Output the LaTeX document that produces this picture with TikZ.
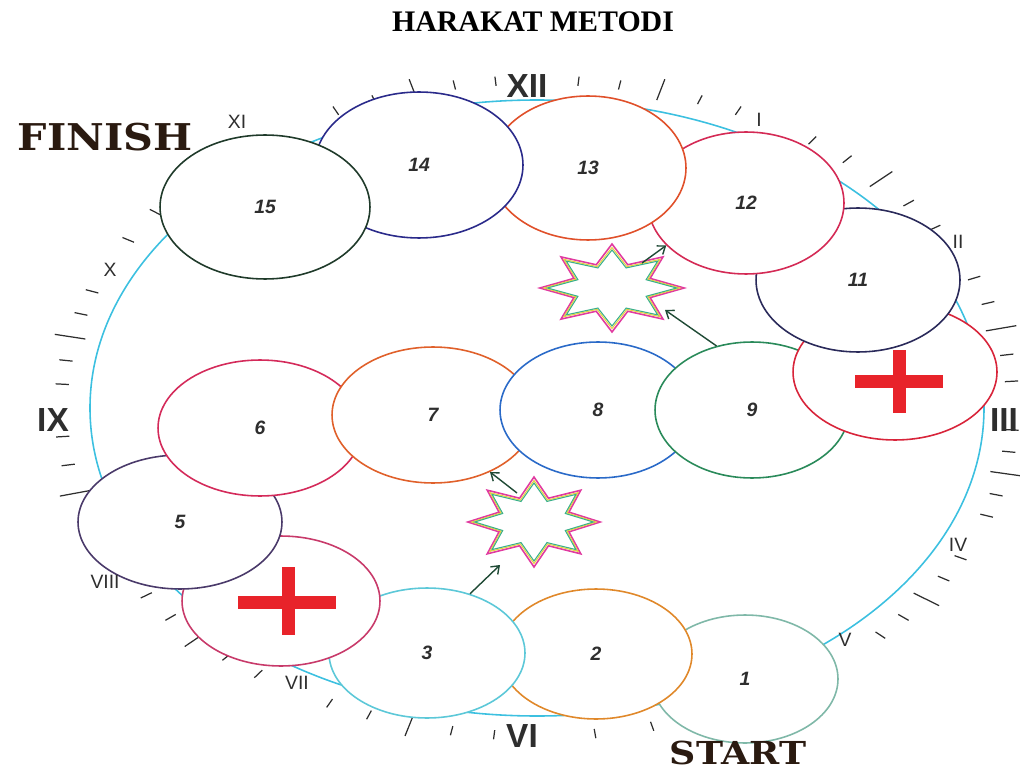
\documentclass[tikz,border=0pt]{standalone}
\usepackage{fontspec}
\setmainfont{Liberation Serif}
\setsansfont{Liberation Sans}
\newfontfamily\slabfont{DejaVu Serif}
\usetikzlibrary{shapes.geometric,arrows.meta,calc}
\definecolor{dialblue}{HTML}{3CC0E0}
\definecolor{tickgray}{HTML}{2E2E2E}
\definecolor{arrowgreen}{HTML}{1F4A35}
\definecolor{plusred}{HTML}{E8232A}
\definecolor{burstpink}{HTML}{E03AA0}
\definecolor{burstyellow}{HTML}{E8D040}
\definecolor{burstteal}{HTML}{3AB08A}
\definecolor{labelbrown}{HTML}{2A1A10}
\definecolor{ccA}{HTML}{7FB8A8}
\definecolor{ccB}{HTML}{E0882A}
\definecolor{ccC}{HTML}{5CC8D8}
\definecolor{ccD}{HTML}{C83A6A}
\definecolor{ccE}{HTML}{4A3A6A}
\definecolor{ccF}{HTML}{D42A5A}
\definecolor{ccG}{HTML}{E0602A}
\definecolor{ccH}{HTML}{2A6AC8}
\definecolor{ccI}{HTML}{2A8A5A}
\definecolor{ccJ}{HTML}{D8243A}
\definecolor{ccK}{HTML}{2A2A5A}
\definecolor{ccL}{HTML}{D42A55}
\definecolor{ccM}{HTML}{E0502A}
\definecolor{ccN}{HTML}{2A2A8A}
\definecolor{ccO}{HTML}{1F3A2A}
\begin{document}
\begin{tikzpicture}[x=0.02cm,y=-0.02cm,
	cell/.style={ellipse,draw,fill=white,line width=0.9pt,inner sep=0pt,font=\sffamily\itshape\bfseries\fontsize{11}{12}\selectfont,text=tickgray},
	burst/.style={star,star points=8,star point ratio=1.75,inner sep=0pt,line width=0.9pt,transform shape},
	arr/.style={-{Straight Barb[length=4pt,width=6pt]},line width=0.8pt,draw=arrowgreen},
	dialtick/.style={line width=0.7pt,draw=tickgray},
	bigroman/.style={font=\sffamily\bfseries\fontsize{19}{20}\selectfont,text=tickgray},
	roman/.style={font=\sffamily\fontsize{11}{12}\selectfont,text=tickgray},
	plusbar/.style={line width=7.4pt,draw=plusred}]
	\useasboundingbox (0,0) rectangle (1020,773);
	\node[font=\bfseries\fontsize{17}{20}\selectfont] (title) at (533,22) {HARAKAT METODI};
	\draw[dialblue,line width=0.9pt] (537,408) ellipse [x radius=447,y radius=308];
	\foreach \a/\b in {90/60,60/28,28/0,0/-23,-23/-48,-48/-90,-90/-121,-121/-150,-150/-180,-180/-205,-205/-240,-240/-270}
		\foreach \k in {1,...,5}{
			\pgfmathsetmacro\ang{\a+(\b-\a)*\k/6}
			\pgfmathsetmacro\ri{\k==3 ? 1.035 : 1.05}
			\pgfmathsetmacro\ro{\k==3 ? 1.105 : 1.08}
			\draw[dialtick] ({537+447*\ri*cos(\ang)},{408-308*\ri*sin(\ang)}) -- ({537+447*\ro*cos(\ang)},{408-308*\ro*sin(\ang)});
		}
	\node[cell,draw=ccA,minimum width=3.72cm,minimum height=2.56cm] (c1) at (745,679) {1};
	\node[cell,draw=ccB,minimum width=3.84cm,minimum height=2.6cm] (c2) at (596,654) {2};
	\node[cell,draw=ccC,minimum width=3.92cm,minimum height=2.6cm] (c3) at (427,653) {3};
	\node[cell,draw=ccD,minimum width=3.96cm,minimum height=2.6cm] (c4) at (281,601) {};
	\node[cell,draw=ccE,minimum width=4.08cm,minimum height=2.68cm] (c5) at (180,522) {5};
	\node[cell,draw=ccF,minimum width=4.08cm,minimum height=2.72cm] (c6) at (260,428) {6};
	\node[cell,draw=ccG,minimum width=4.04cm,minimum height=2.72cm] (c7) at (433,415) {7};
	\node[cell,draw=ccH,minimum width=3.92cm,minimum height=2.72cm] (c8) at (598,410) {8};
	\node[cell,draw=ccI,minimum width=3.88cm,minimum height=2.72cm] (c9) at (752,410) {9};
	\node[cell,draw=ccJ,minimum width=4.08cm,minimum height=2.72cm] (c10) at (895,372) {};
	\node[cell,draw=ccK,minimum width=4.08cm,minimum height=2.88cm] (c11) at (858,280) {11};
	\node[cell,draw=ccL,minimum width=3.92cm,minimum height=2.84cm] (c12) at (746,203) {12};
	\node[cell,draw=ccM,minimum width=3.92cm,minimum height=2.88cm] (c13) at (588,168) {13};
	\node[cell,draw=ccN,minimum width=4.16cm,minimum height=2.92cm] (c14) at (419,165) {14};
	\node[cell,draw=ccO,minimum width=4.2cm,minimum height=2.88cm] (c15) at (265,207) {15};
	\draw[plusbar] ($(c4.center)+(-43,1)$) -- ($(c4.center)+(55,1)$);
	\draw[plusbar] ($(c4.center)+(7,-34)$) -- ($(c4.center)+(7,34)$);
	\draw[plusbar] ($(c10.center)+(-40,9)$) -- ($(c10.center)+(48,9)$);
	\draw[plusbar] ($(c10.center)+(4,-22)$) -- ($(c10.center)+(4,41)$);
	\coordinate (s1c) at (612,288);
	\coordinate (s2c) at (534,522);
	\node[burst,draw=burstpink,minimum size=1.76cm,xscale=1.64] (s1) at (s1c) {};
	\node[burst,draw=burstyellow,line width=0.6pt,minimum size=1.62cm,xscale=1.68] (s1y) at (s1c) {};
	\node[burst,draw=burstteal,line width=0.6pt,minimum size=1.52cm,xscale=1.7] (s1t) at (s1c) {};
	\node[burst,draw=burstpink,minimum size=1.8cm,xscale=1.47] (s2) at (s2c) {};
	\node[burst,draw=burstyellow,line width=0.6pt,minimum size=1.66cm,xscale=1.5] (s2y) at (s2c) {};
	\node[burst,draw=burstteal,line width=0.6pt,minimum size=1.56cm,xscale=1.52] (s2t) at (s2c) {};
	\coordinate (a1) at (665,310);
	\coordinate (a2) at (642,263);
	\coordinate (a3) at (500,565);
	\coordinate (a4) at (517,493);
	\draw[arr] (c9.119) -- (a1);
	\draw[arr] (a2) -- (c12.-152);
	\draw[arr] (c3.54) -- (a3);
	\draw[arr] (a4) -- (c7.-45);
	\node[bigroman] (r12) at (527,86) {XII};
	\node[roman] (r1) at (759,120) {I};
	\node[roman] (r2) at (958,242) {II};
	\node[bigroman,anchor=east,inner sep=1pt] (r3) at (1020,420) {III};
	\node[roman] (r4) at (958,545) {IV};
	\node[roman] (r5) at (845,640) {V};
	\node[bigroman] (r6) at (522,736) {VI};
	\node[roman] (r7) at (297,683) {VII};
	\node[roman] (r8) at (105,582) {VIII};
	\node[bigroman] (r9) at (53,420) {IX};
	\node[roman] (r10) at (110,270) {X};
	\node[roman] (r11) at (237,122) {XI};
	\coordinate (finpos) at (105,137);
	\coordinate (startpos) at (738,753);
	\node[font=\slabfont\bfseries\fontsize{21}{24}\selectfont,text=labelbrown,xscale=1.12] (finish) at (finpos) {FINISH};
	\node[font=\slabfont\bfseries\fontsize{18}{20}\selectfont,text=labelbrown,xscale=1.15] (start) at (startpos) {START};
\end{tikzpicture}
\end{document}
